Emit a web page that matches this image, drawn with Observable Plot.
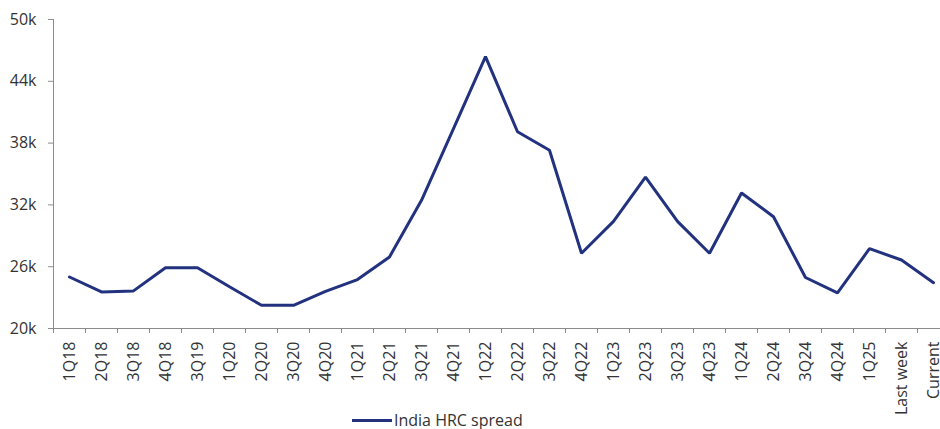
<!DOCTYPE html>
<html>
<head>
<meta charset="utf-8">
<script src="https://cdn.jsdelivr.net/npm/d3@7"></script>
<script src="https://cdn.jsdelivr.net/npm/@observablehq/plot@0.6"></script>
<style>
  html, body { margin: 0; padding: 0; background: #fff; overflow: hidden; }
  #chart { width: 940px; height: 429px; position: relative; font-family: "Open Sans", sans-serif; }
  .legend { height: 18px; line-height: 18px; display: flex; align-items: center; padding-left: 352px; font-size: 16px; color: #333; }
  .legend .swatch { width: 40px; height: 3px; background: #22327f; margin-right: 2px; }
</style>
</head>
<body>
<div id="chart"></div>
<script>
// India HRC spread by period
const periods = ["1Q18", "2Q18", "3Q18", "4Q18", "3Q19", "1Q20", "2Q20", "3Q20", "4Q20",
  "1Q21", "2Q21", "3Q21", "4Q21", "1Q22", "2Q22", "3Q22", "4Q22", "1Q23", "2Q23", "3Q23",
  "4Q23", "1Q24", "2Q24", "3Q24", "4Q24", "1Q25", "Last week", "Current"];
const spread = [25000, 23550, 23650, 25900, 25900, 24050, 22250, 22250, 23600,
  24750, 26950, 32450, 39400, 46400, 39100, 37300, 27300, 30400, 34700, 30400,
  27300, 33150, 30850, 24950, 23450, 27750, 26650, 24450];
const yTicks = [20000, 26000, 32000, 38000, 44000, 50000];
const seriesName = "India HRC spread";

const rows = periods.map((p, i) => ({i, period: p, value: spread[i]}));
const lineColor = "#22327f";
const axisColor = "#8c8c8c";

const chart = Plot.plot({
  width: 950,
  height: 411,
  marginTop: 19,
  marginBottom: 83,
  marginLeft: 53,
  marginRight: 1,
  style: {fontFamily: "Open Sans, sans-serif", color: "#333", overflow: "visible",
    background: "transparent", maxWidth: "none"},
  x: {domain: [0, periods.length], axis: null},
  y: {domain: [20000, 50000], axis: null},
  marks: [
    // y axis
    Plot.axisY({ticks: yTicks, tickFormat: d => d / 1000 + "k", tickSize: 5, tickPadding: 12,
      fontSize: 16, stroke: axisColor, fill: "#333", label: null}),
    Plot.ruleX([0], {stroke: axisColor}),
    // x axis: boundary ticks and centered rotated labels
    Plot.ruleY([20000], {stroke: axisColor}),
    Plot.axisX({ticks: d3.range(0, periods.length + 1), tickFormat: () => "", tickSize: 5,
      stroke: axisColor, label: null}),
    Plot.axisX({ticks: rows.map(d => d.i + 0.5), tickFormat: (d) => periods[Math.floor(d)],
      tickSize: 0, tickPadding: 13, tickRotate: -90, fontSize: 16, fill: "#333", label: null}),
    Plot.line(rows, {x: d => d.i + 0.5, y: "value", stroke: lineColor, strokeWidth: 3, strokeLinejoin: "miter"})
  ]
});
chart.style.width = "950px";
chart.style.height = "411px";

const root = document.getElementById("chart");
root.appendChild(chart);
const legend = document.createElement("div");
legend.className = "legend";
legend.innerHTML = `<span class="swatch"></span><span>${seriesName}</span>`;
root.appendChild(legend);
</script>
</body>
</html>
